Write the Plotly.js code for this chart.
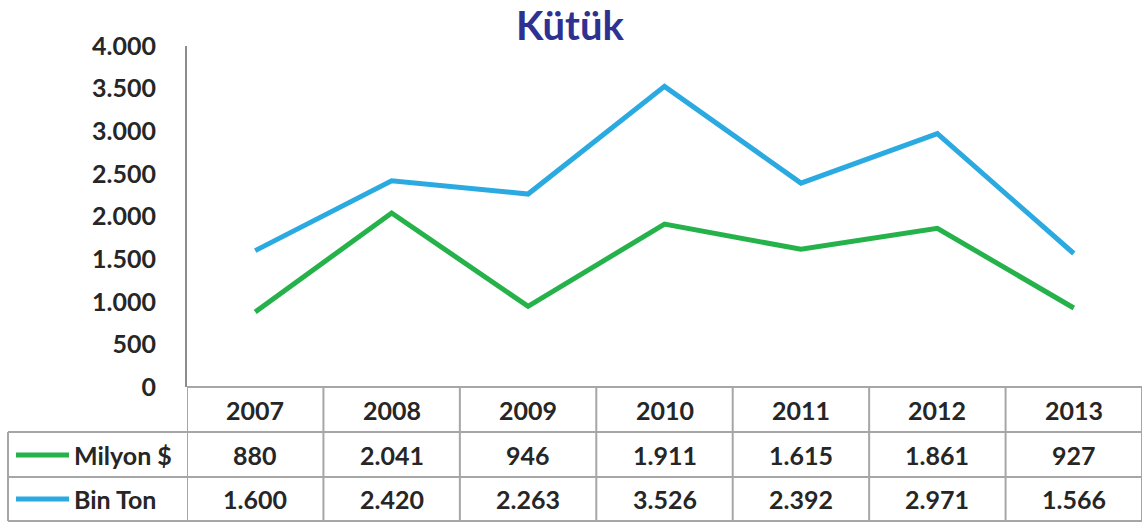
<!DOCTYPE html>
<html><head><meta charset="utf-8">
<script src="https://cdn.plot.ly/plotly-3.0.1.min.js"></script>
<style>html,body{margin:0;padding:0;background:#fff}#chart{width:1142px;height:523px}</style>
</head><body><div id="chart"></div>
<script>
const years = ['2007','2008','2009','2010','2011','2012','2013'];
const milyonDolar = [880, 2041, 946, 1911, 1615, 1861, 927];
const binTon = [1600, 2420, 2263, 3526, 2392, 2971, 1566];
const seriesNames = ['Milyon $', 'Bin Ton'];
const seriesColors = ['#25B24A', '#2AAAE1'];
const yTicks = [0, 500, 1000, 1500, 2000, 2500, 3000, 3500, 4000];

const W = 1142, H = 523, L = 187, R = 0, T = 46, B = 136;
const ph = H - T - B, pw = W - L - R;
const yp = py => (H - B - py) / ph;
const xp = px => (px - L) / pw;
const fmt = v => String(v).replace(/\B(?=(\d{3})+(?!\d))/g, '.');

const FONT = 'Lato, "Open Sans", sans-serif';
const txt = '#262626';
const grid = '#A6A6A6';
const cellFont = {family: FONT, size: 25, color: txt, weight: 'bold'};

const traces = [milyonDolar, binTon].map((vals, i) => ({
  type: 'scatter', mode: 'lines', x: years.map((_, k) => k), y: vals, name: seriesNames[i],
  line: {color: seriesColors[i], width: 5}, hoverinfo: 'skip'
}));

const shapes = [];
const annotations = [];
shapes.push({type:'line', xref:'paper', yref:'paper', x0:0, x1:1, y0:yp(387), y1:yp(387), line:{color:grid, width:2}});
[432, 477, 521].forEach(py => shapes.push({type:'line', xref:'paper', yref:'paper', x0:xp(8), x1:1, y0:yp(py), y1:yp(py), line:{color:grid, width:2}}));
for (let k = 0; k <= years.length; k++) {
  shapes.push({type:'line', xref:'x', yref:'paper', x0:k-0.5, x1:k-0.5, y0:yp(387), y1:yp(521), line:{color:grid, width:2}});
}
shapes.push({type:'line', xref:'paper', yref:'paper', x0:xp(8), x1:xp(8), y0:yp(432), y1:yp(521), line:{color:grid, width:2}});

years.forEach((y, i) => annotations.push({xref:'x', yref:'paper', x:i, y:yp(410), xanchor:'center', yanchor:'middle', text:y, showarrow:false, font:cellFont}));
const rowCenters = [455, 499];
[milyonDolar, binTon].forEach((vals, r) => {
  vals.forEach((v, i) => annotations.push({xref:'x', yref:'paper', x:i, y:yp(rowCenters[r]), xanchor:'center', yanchor:'middle', text:fmt(v), showarrow:false, font:cellFont}));
  shapes.push({type:'line', xref:'paper', yref:'paper', x0:xp(16), x1:xp(69), y0:yp(rowCenters[r]), y1:yp(rowCenters[r]), line:{color:seriesColors[r], width:5}});
  annotations.push({xref:'paper', yref:'paper', x:xp(72), y:yp(rowCenters[r]), xanchor:'left', yanchor:'middle', text:seriesNames[r], showarrow:false, font:cellFont});
});

const layout = {
  width: W, height: H,
  margin: {l: L, r: R, t: T, b: B, pad: 0},
  paper_bgcolor: '#fff', plot_bgcolor: '#fff',
  separators: ',.',
  showlegend: false,
  title: {text: 'Kütük', x: 570 / W, xref: 'container', xanchor: 'center', y: 1 - 26/H, yref: 'container', yanchor: 'middle',
          font: {family: FONT, size: 40, color: '#2E3192', weight: 'bold'}},
  xaxis: {range: [-0.5, years.length - 0.5], showticklabels: false, ticks: '',
          showgrid: false, zeroline: false, showline: false, fixedrange: true},
  yaxis: {range: [0, 4000], tickvals: yTicks, ticktext: yTicks.map(fmt), showgrid: false, zeroline: false,
          showline: true, linecolor: '#8C8C8C', linewidth: 2, ticks: 'outside', ticklen: 24, tickcolor: 'rgba(0,0,0,0)',
          tickfont: {family: FONT, size: 25, color: txt, weight: 'bold'}, fixedrange: true},
  shapes, annotations
};
Plotly.newPlot('chart', traces, layout, {staticPlot: true, displayModeBar: false});
</script></body></html>
